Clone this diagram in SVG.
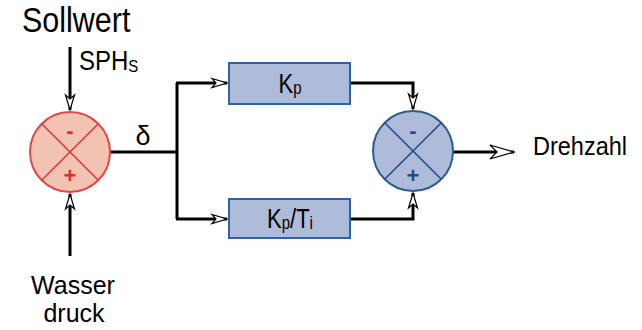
<svg xmlns="http://www.w3.org/2000/svg" width="642" height="330" viewBox="0 0 642 330">
<defs>
<style>
.t{font-family:"Liberation Sans",Arial,sans-serif;fill:#000}
.w{fill:none;stroke:#000;stroke-width:3}
.ah{fill:#fff;stroke:#000;stroke-width:1.2;stroke-linejoin:miter}
.red circle{fill:#f2c3b2;stroke:#e04848;stroke-width:2}
.red line{stroke:#d93a3a;stroke-width:1.6}
.blue circle{fill:#aebbd9;stroke:#2b5c8e;stroke-width:2}
.blue line{stroke:#1f4f85;stroke-width:1.6}
.box{fill:#aebbd9;stroke:#2d63a0;stroke-width:2}
.sg{font-family:"Liberation Sans",Arial,sans-serif;font-weight:bold;font-size:22px;text-anchor:middle}
</style>
<marker id="a" markerUnits="userSpaceOnUse" markerWidth="16" markerHeight="10" refX="15" refY="4.5" orient="auto" overflow="visible">
<path class="ah" d="M0,0 L15,4.5 L0,9 L4,4.5 Z"/>
</marker>
<marker id="b" markerUnits="userSpaceOnUse" markerWidth="26" markerHeight="16" refX="24" refY="7" orient="auto" overflow="visible">
<path class="ah" d="M0,0 L24,7 L0,14 L7,7 Z"/>
</marker>
</defs>

<g id="connectors">
<path class="w" d="M70,47 V110" marker-end="url(#a)"/>
<path class="w" d="M70,256 V194" marker-end="url(#a)"/>
<path class="w" d="M110,152 H177"/>
<path class="w" d="M177,83 V219"/>
<path class="w" d="M176,83 H227" marker-end="url(#a)"/>
<path class="w" d="M176,219 H227" marker-end="url(#a)"/>
<path class="w" d="M350,83 H413 V109" marker-end="url(#a)"/>
<path class="w" d="M350,219 H413 V193" marker-end="url(#a)"/>
<path class="w" d="M453,152 H514" marker-end="url(#b)"/>
</g>

<g id="sum1" class="red">
<circle cx="70" cy="152" r="40"/>
<line x1="41.7" y1="123.7" x2="98.3" y2="180.3"/>
<line x1="98.3" y1="123.7" x2="41.7" y2="180.3"/>
<text class="sg" x="70" y="138" fill="#d93030">-</text>
<text class="sg" x="70" y="183" fill="#d93030">+</text>
</g>

<g id="kp">
<rect class="box" x="229" y="63" width="121" height="41"/>
<text class="t" transform="translate(290,93) scale(1,1.28)" font-size="22" text-anchor="middle">K<tspan font-size="15" dy="1">p</tspan></text>
</g>

<g id="kpti">
<rect class="box" x="229" y="199" width="121" height="39"/>
<text class="t" transform="translate(290,228) scale(1,1.28)" font-size="22" text-anchor="middle">K<tspan font-size="15" dy="1">p</tspan><tspan dy="-1">/T</tspan><tspan font-size="15" dy="1">i</tspan></text>
</g>

<g id="sum2" class="blue">
<circle cx="413" cy="151" r="40"/>
<line x1="384.7" y1="122.7" x2="441.3" y2="179.3"/>
<line x1="441.3" y1="122.7" x2="384.7" y2="179.3"/>
<text class="sg" x="413" y="138" fill="#1f4f85">-</text>
<text class="sg" x="413" y="183" fill="#1f4f85">+</text>
</g>

<g id="labels">
<text class="t" transform="translate(22,32) scale(1,1.18)" font-size="30.5">Sollwert</text>
<text class="t" transform="translate(79,70) scale(1,1.16)" font-size="24">SPH<tspan font-size="15" dy="2">S</tspan></text>
<text class="t" x="143" y="145" font-size="27" text-anchor="middle">δ</text>
<text class="t" transform="translate(533,155) scale(1,1.08)" font-size="23.5">Drehzahl</text>
<text class="t" x="73" y="294" font-size="25" text-anchor="middle">Wasser</text>
<text class="t" x="74" y="322" font-size="25" text-anchor="middle">druck</text>
</g>
</svg>
